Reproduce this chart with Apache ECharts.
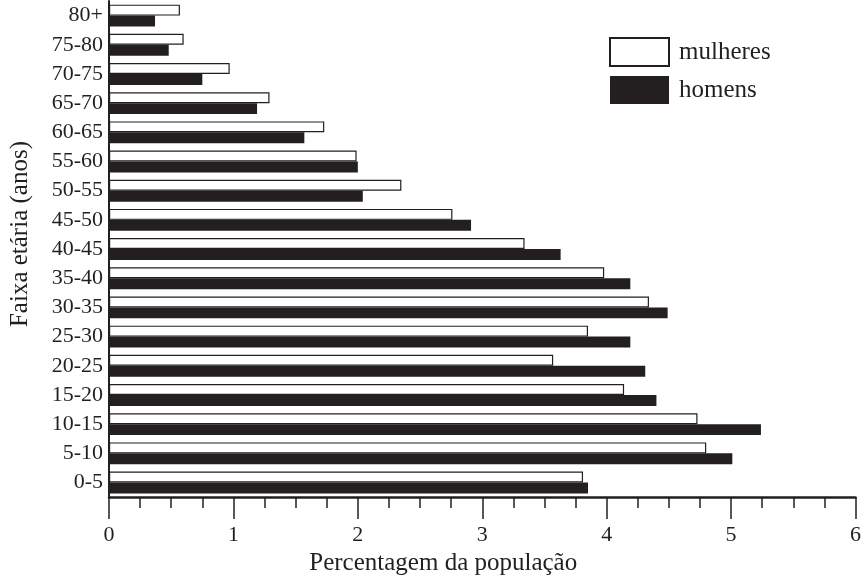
<!DOCTYPE html>
<html>
<head>
<meta charset="utf-8">
<script src="https://cdn.jsdelivr.net/npm/echarts@6/dist/echarts.min.js"></script>
<style>html,body{margin:0;padding:0;background:#fff;}#c{width:864px;height:581px;}</style>
</head>
<body>
<div id="c"></div>
<script>
const categories = ['0-5','5-10','10-15','15-20','20-25','25-30','30-35','35-40','40-45','45-50','50-55','55-60','60-65','65-70','70-75','75-80','80+'];
const mulheres = [3.81,4.80,4.73,4.14,3.57,3.85,4.34,3.98,3.34,2.76,2.35,1.99,1.73,1.29,0.97,0.60,0.57];
const homens = [3.85,5.01,5.24,4.40,4.31,4.19,4.49,4.19,3.63,2.91,2.04,2.00,1.57,1.19,0.75,0.48,0.37];
const xTicks = [0,1,2,3,4,5,6];

const FONT = '"Liberation Serif", "Times New Roman", serif';
const INK = '#231f20';
const chart = echarts.init(document.getElementById('c'), null, {renderer:'canvas'});
chart.setOption({
  animation: false,
  textStyle: {fontFamily: FONT, color: INK},
  grid: {left: 106, right: 8, top: 1, bottom: 80, containLabel: false},
  legend: {
    orient: 'vertical', left: 609, top: 37, padding: 0,
    itemWidth: 59, itemHeight: 28, itemGap: 9,
    icon: 'rect',
    data: ['mulheres','homens'],
    textStyle: {fontFamily: FONT, fontSize: 25, color: INK, padding: [0,0,0,5]}
  },
  xAxis: {
    type: 'value', min: xTicks[0], max: xTicks[xTicks.length-1], interval: 1,
    name: 'Percentagem da população', nameLocation: 'middle', nameGap: 50,
    nameTextStyle: {fontFamily: FONT, fontSize: 25, color: INK, padding: [0,78,0,0]},
    axisLine: {show: true, lineStyle: {color: INK, width: 2.5}},
    axisTick: {show: true, length: 22, lineStyle: {color: INK, width: 1.5}},
    minorTick: {show: true, splitNumber: 4, length: 11, lineStyle: {color: INK, width: 1.5}},
    splitLine: {show: false},
    axisLabel: {fontFamily: FONT, fontSize: 22, color: INK, margin: 27}
  },
  yAxis: {
    type: 'category', data: categories,
    name: 'Faixa etária (anos)', nameLocation: 'middle', nameGap: 76, nameRotate: 90,
    nameTextStyle: {fontFamily: FONT, fontSize: 25, color: INK, padding: [0,0,0,30]},
    axisLine: {show: true, lineStyle: {color: INK, width: 2}},
    axisTick: {show: false},
    axisLabel: {fontFamily: FONT, fontSize: 22, color: INK, margin: 6}
  },
  series: [
    {name: 'mulheres', type: 'bar', data: mulheres, barGap: '0%', barCategoryGap: '25%',
     itemStyle: {color: '#ffffff', borderColor: INK, borderWidth: 1.2}},
    {name: 'homens', type: 'bar', data: homens, barGap: '0%', barCategoryGap: '25%',
     itemStyle: {color: INK, borderColor: INK, borderWidth: 0}}
  ]
});
</script>
</body>
</html>
